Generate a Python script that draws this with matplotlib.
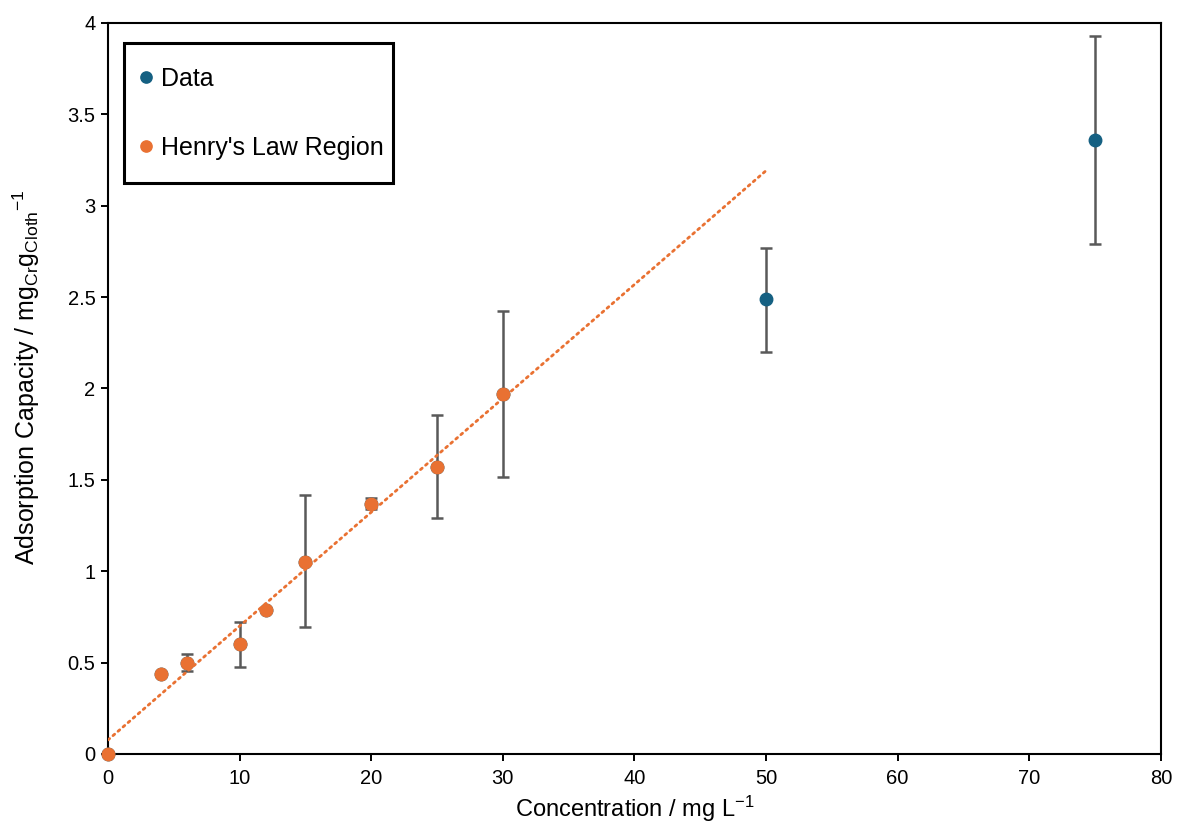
import numpy as np
import matplotlib
matplotlib.use("Agg")
import matplotlib.pyplot as plt
from matplotlib.patches import Rectangle

plt.rcParams['font.family'] = ['Liberation Sans', 'DejaVu Sans']
plt.rcParams['mathtext.fontset'] = 'custom'
plt.rcParams['mathtext.rm'] = 'Liberation Sans'
plt.rcParams['mathtext.it'] = 'Liberation Sans'

# all measured points
conc = [0, 4, 6, 10, 12, 15, 20, 25, 30, 50, 75]
capacity = [0, 0.44, 0.50, 0.60, 0.79, 1.05, 1.37, 1.57, 1.97, 2.49, 3.36]
err_lo = [0, 0, 0.045, 0.125, 0, 0.355, 0.03, 0.28, 0.455, 0.29, 0.57]
err_hi = [0, 0, 0.045, 0.12, 0, 0.365, 0.03, 0.285, 0.455, 0.28, 0.57]

# Henry's law region (linear part)
henry_conc = [0, 4, 6, 10, 12, 15, 20, 25, 30]
henry_cap = [0, 0.44, 0.50, 0.60, 0.79, 1.05, 1.37, 1.57, 1.97]

blue = '#156082'
orange = '#E97132'

x = np.array(conc)
y = np.array(capacity)
lo = np.array(err_lo)
hi = np.array(err_hi)
has_err = (lo + hi) > 0

fig = plt.figure(figsize=(11.81, 8.30), dpi=100)
ax = fig.add_axes([0.0914, 0.0916, 0.8916, 0.8807])

ax.errorbar(x[has_err], y[has_err], yerr=[lo[has_err], hi[has_err]], fmt='none',
            ecolor='#595959', elinewidth=1.8, capsize=4, capthick=1.8, zorder=2)
ax.plot(x, y, 'o', color=blue, markersize=9, label='Data', zorder=3, clip_on=False)
ax.plot(henry_conc, henry_cap, 'o', color=orange, markersize=9,
        label="Henry's Law Region", zorder=4, clip_on=False)

# linear trendline through Henry's region
k, b = np.polyfit(henry_conc, henry_cap, 1)
xt = np.array([0, 50])
ax.plot(xt, k * xt + b, linestyle=(0, (0.8, 1.6)), color=orange, linewidth=2,
        dash_capstyle='round', zorder=3)

ax.set_xlim(0, 80)
ax.set_ylim(0, 4)
ax.set_xticks(np.arange(0, 81, 10))
ax.set_yticks(np.arange(0, 4.01, 0.5))
ax.set_yticklabels(['0', '0.5', '1', '1.5', '2', '2.5', '3', '3.5', '4'])
ax.tick_params(labelsize=14.5, direction='out', length=5, width=1.4, colors='black', pad=4)
ax.tick_params(axis='x', pad=6)
for s in ax.spines.values():
    s.set_linewidth(1.5)
    s.set_color('black')

ax.set_xlabel('Concentration / mg L$^{\\mathregular{-1}}$', fontsize=17, labelpad=4)
ax.set_ylabel('Adsorption Capacity / mg$_{\\mathregular{Cr}}$g$_{\\mathregular{Cloth}}$$^{\\mathregular{-1}}$',
              fontsize=18)
ax.yaxis.set_label_coords(-0.063, 0.515)

# legend box drawn separately so its size matches
ax.add_patch(Rectangle((0.0152, 0.781), 0.2555, 0.1915, transform=ax.transAxes,
                       facecolor='white', edgecolor='black', linewidth=2.2, zorder=5))
leg = ax.legend(loc='upper left', bbox_to_anchor=(0.0293, 0.940), borderaxespad=0,
                fontsize=18, frameon=False, borderpad=0, labelspacing=1.8,
                handlelength=0.6, handletextpad=0.3, numpoints=1, markerscale=0.9)
leg.set_zorder(6)

fig.savefig('out.png', dpi=100)
